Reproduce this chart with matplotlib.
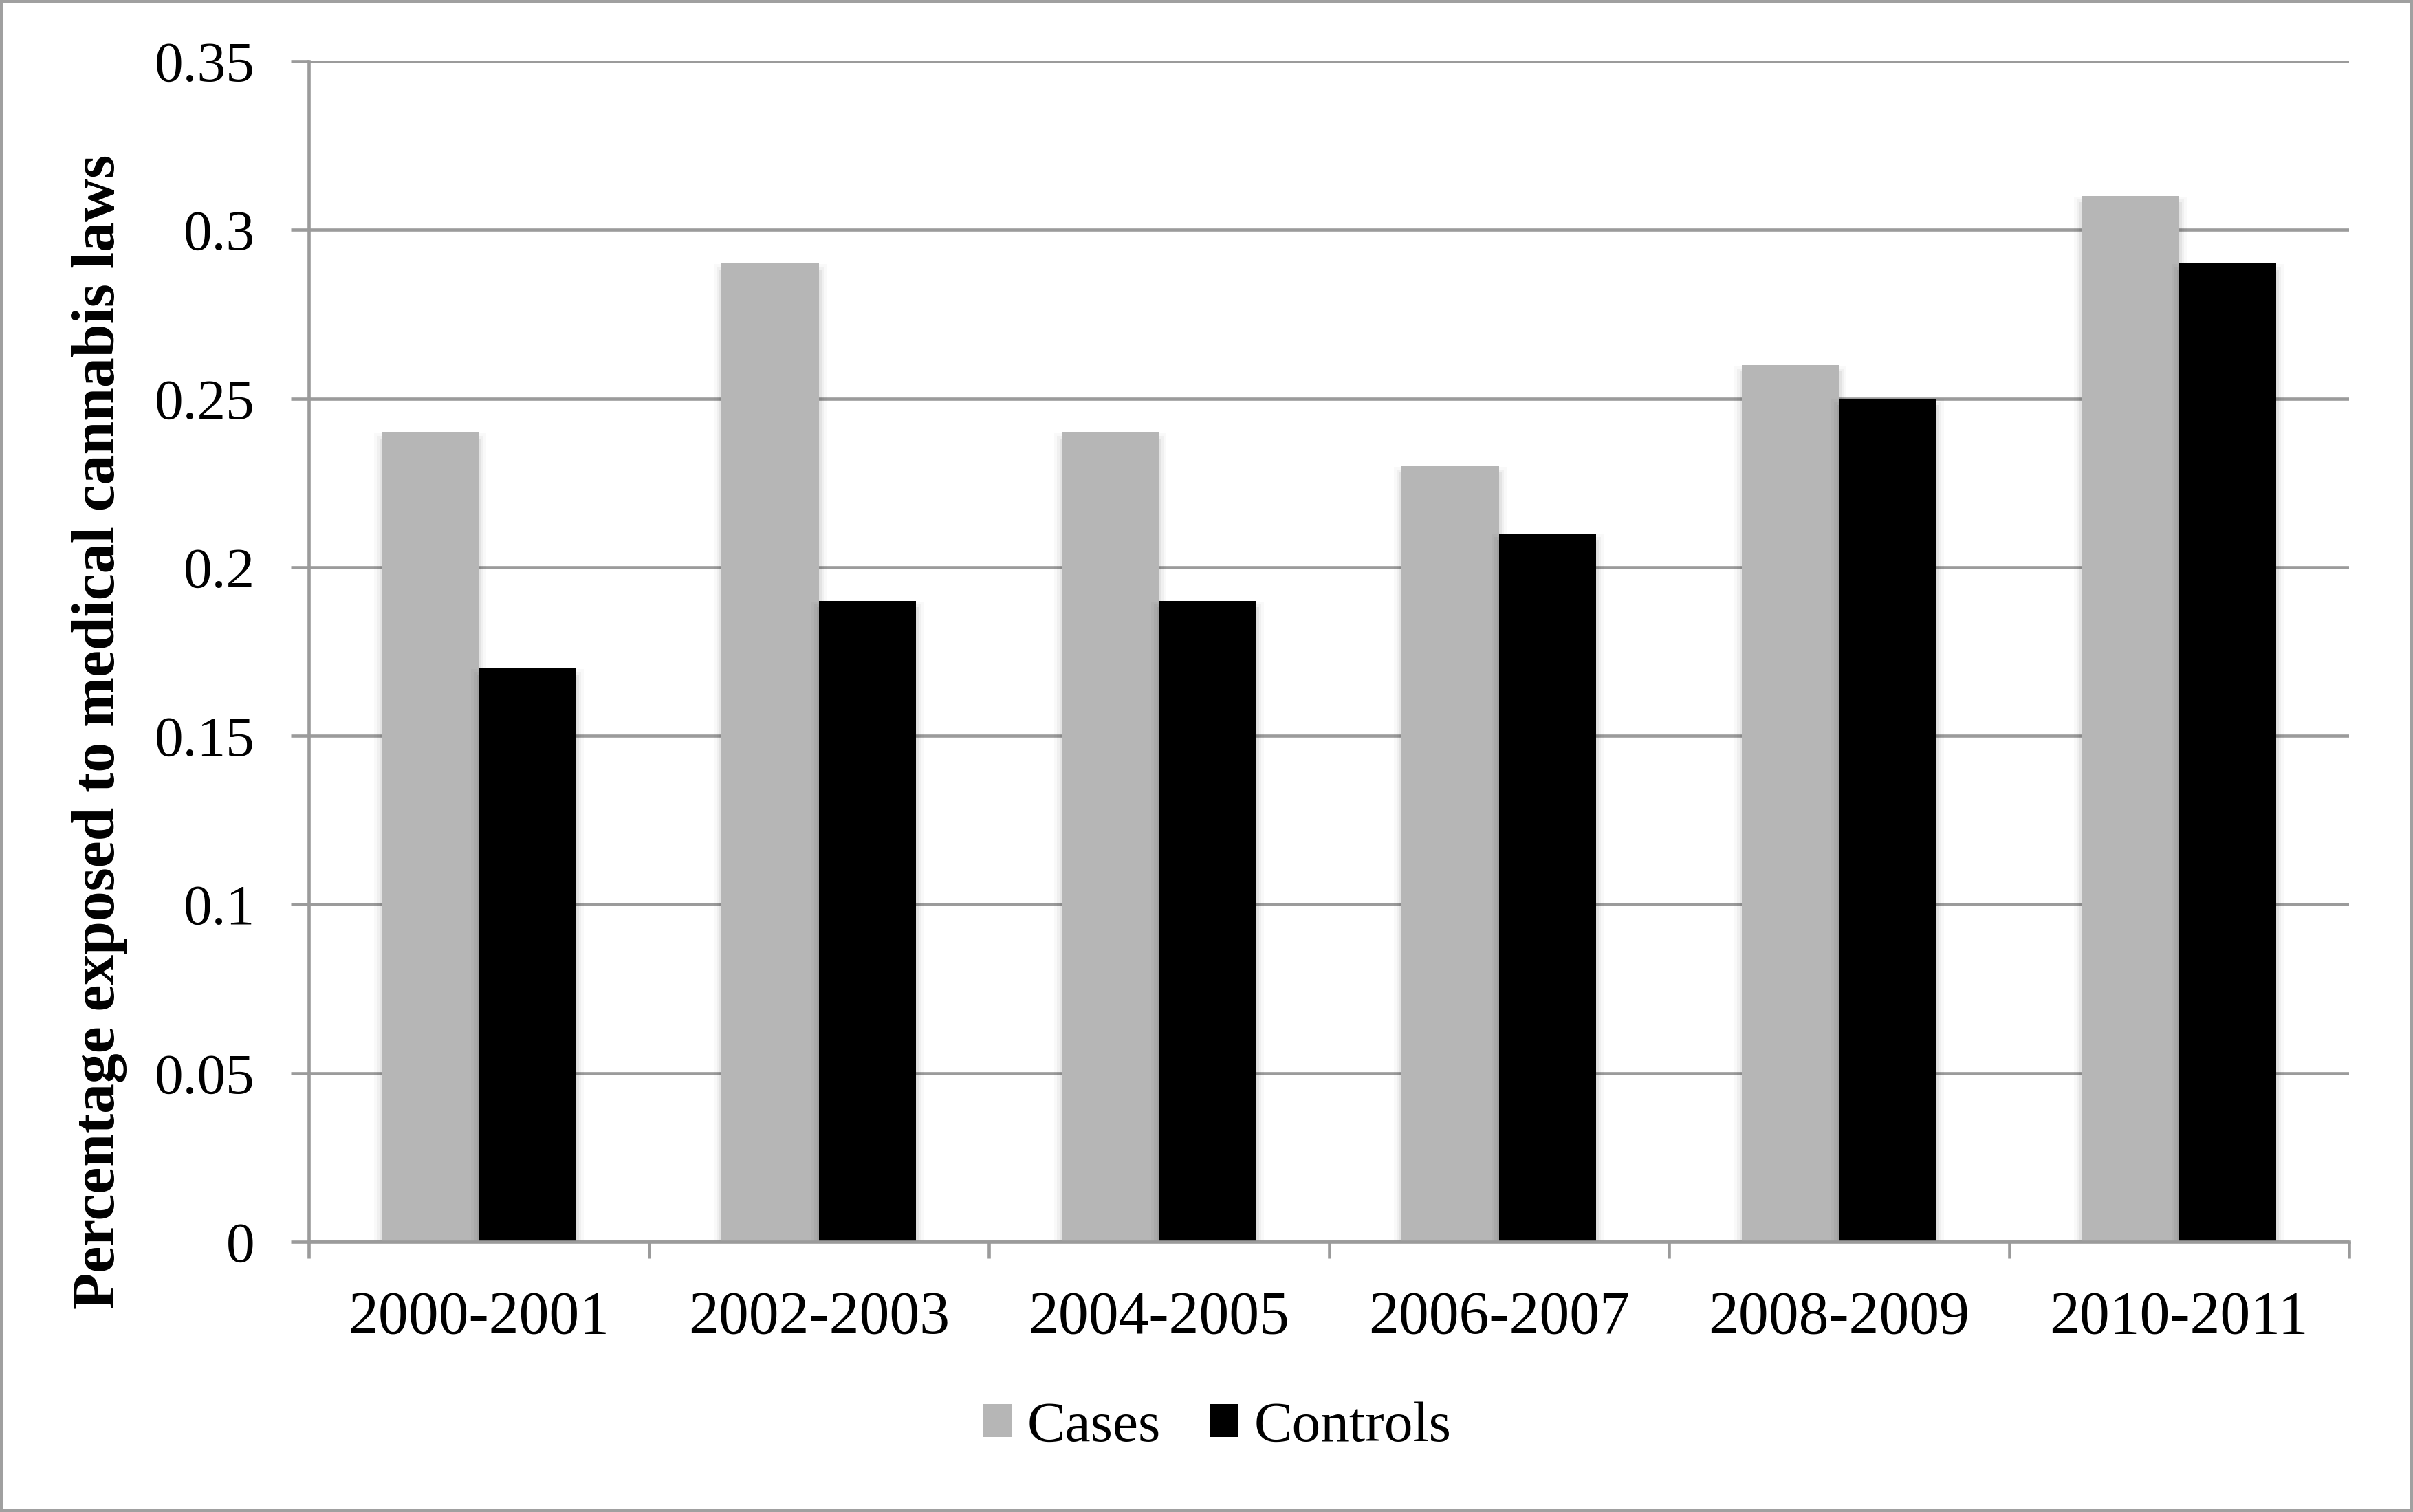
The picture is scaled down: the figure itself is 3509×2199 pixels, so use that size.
import matplotlib
matplotlib.use("Agg")
import matplotlib.pyplot as plt
import matplotlib.patheffects as pe
from matplotlib.patches import Patch, Rectangle
from matplotlib.ticker import FixedLocator
import numpy as np

# ---- data ----
categories = ["2000-2001", "2002-2003", "2004-2005", "2006-2007", "2008-2009", "2010-2011"]
cases = [0.24, 0.29, 0.24, 0.23, 0.26, 0.31]
controls = [0.17, 0.19, 0.19, 0.21, 0.25, 0.29]
series_names = ["Cases", "Controls"]
y_ticks = [0, 0.05, 0.1, 0.15, 0.2, 0.25, 0.3, 0.35]
y_tick_labels = ["0", "0.05", "0.1", "0.15", "0.2", "0.25", "0.3", "0.35"]
ylabel = "Percentage exposed to medical cannabis laws"

# ---- style ----
W, H, DPI = 3509, 2199, 300
FONT = "Liberation Serif"
GRID = "#9b9b9b"
CASE_COLOR = "#b6b6b6"
CTRL_COLOR = "#000000"
px = 72.0 / DPI  # points per pixel

plt.rcParams["font.family"] = [FONT, "DejaVu Serif"]

fig = plt.figure(figsize=(W / DPI, H / DPI), dpi=DPI)
ax_left, ax_right, ax_top, ax_bot = 449, 3416, 89, 1806
ax = fig.add_axes([ax_left / W, 1 - ax_bot / H, (ax_right - ax_left) / W, (ax_bot - ax_top) / H])

x = np.arange(len(categories))
bw = 1 / 3.5

shadow = [
    pe.Stroke(linewidth=22 * px, foreground="black", alpha=0.025, offset=(0, -12 * px)),
    pe.Stroke(linewidth=14 * px, foreground="black", alpha=0.035, offset=(0, -12 * px)),
    pe.Stroke(linewidth=7 * px, foreground="black", alpha=0.05, offset=(0, -12 * px)),
    pe.Normal(),
]

b1 = ax.bar(x - bw / 2, cases, width=bw, color=CASE_COLOR, linewidth=0, zorder=3,
            label=series_names[0])
b2 = ax.bar(x + bw / 2, controls, width=bw, color=CTRL_COLOR, linewidth=0, zorder=3,
            label=series_names[1])
for b in list(b1) + list(b2):
    b.set_path_effects(shadow)

ax.set_xlim(-0.5, len(categories) - 0.5)
ax.set_ylim(0, 0.35)

# y axis
ax.set_yticks(y_ticks)
ax.set_yticklabels(y_tick_labels)
ax.yaxis.grid(True, color=GRID, linewidth=4.6 * px, zorder=0)
ax.set_axisbelow(True)
ax.tick_params(axis="y", direction="out", length=26 * px, width=4.6 * px, color=GRID,
               labelsize=20, pad=12.5)

# x axis
ax.set_xticks(x)
ax.set_xticklabels(categories)
ax.xaxis.set_minor_locator(FixedLocator(np.arange(-0.5, len(categories), 1.0)))
ax.tick_params(axis="x", which="major", length=0, labelsize=21, pad=17)
ax.tick_params(axis="x", which="minor", direction="out", length=24 * px, width=4.6 * px,
               color=GRID)

for s in ["top", "right"]:
    ax.spines[s].set_visible(False)
for s in ["left", "bottom"]:
    ax.spines[s].set_color(GRID)
    ax.spines[s].set_linewidth(4.6 * px)
ax.spines["bottom"].set_zorder(4)

# y label
fig.text(145 / W, 1 - 1064 / H, ylabel, rotation=90, ha="center", va="center",
         fontsize=21, fontweight="bold")

# legend
handles = [Patch(facecolor=CASE_COLOR, edgecolor="none"),
           Patch(facecolor=CTRL_COLOR, edgecolor="none")]
fig.legend(handles, series_names, loc="center", bbox_to_anchor=(1770 / W, 1 - 2076 / H),
           ncol=2, frameon=False, fontsize=20, handlelength=0.5, handleheight=0.5,
           handletextpad=0.28, columnspacing=0.85)

# outer frame
fig.patches.append(Rectangle((2 / W, 2 / H), 1 - 4 / W, 1 - 4 / H, transform=fig.transFigure,
                             fill=False, edgecolor="#a0a0a0", linewidth=5 * px))

fig.savefig("out.png", dpi=DPI)
